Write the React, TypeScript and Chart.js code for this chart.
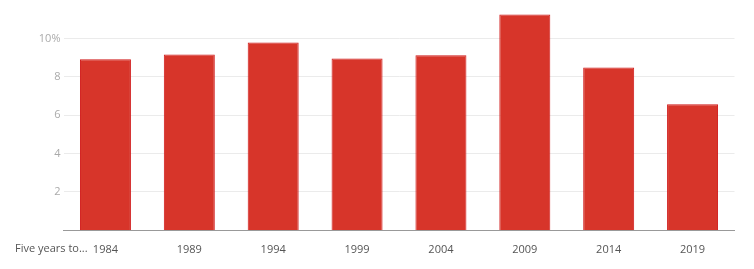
import React, { useEffect, useRef } from "react";
import { Chart, registerables } from "chart.js";

Chart.register(...registerables);

const categories = ["1984", "1989", "1994", "1999", "2004", "2009", "2014", "2019"];
const values = [8.93, 9.18, 9.8, 8.97, 9.13, 11.27, 8.5, 6.57];
const yTicks = [2, 4, 6, 8, 10];
const axisTitle = "Five years to...";

export default function App() {
  const ref = useRef<HTMLCanvasElement | null>(null);
  useEffect(() => {
    document.body.style.margin = "0";
    const ctx = ref.current!.getContext("2d")!;
    const font = "'Open Sans', sans-serif";
    const labelPlugin = {
      id: "leftLabel",
      afterDraw(chart: any) {
        const c = chart.ctx;
        c.save();
        c.font = `11px ${font}`;
        c.fillStyle = "#555555";
        c.textAlign = "left";
        c.textBaseline = "middle";
        c.fillText(axisTitle, 15, 249);
        c.restore();
      },
    };
    const chart = new Chart(ctx, {
      type: "bar",
      data: {
        labels: categories,
        datasets: [
          {
            data: values,
            backgroundColor: "#d7352a",
            borderColor: "#d01818",
            borderWidth: 1,
            categoryPercentage: 1,
            barPercentage: 0.608,
          },
        ],
      },
      options: {
        responsive: false,
        animation: false,
        layout: { padding: { left: 0, right: 19.5, top: 10, bottom: 0 } },
        plugins: { legend: { display: false }, tooltip: { enabled: false } },
        scales: {
          x: {
            grid: { display: false },
            border: { display: true, color: "#999999", width: 1 },
            ticks: { color: "#555555", font: { family: font, size: 11 }, padding: 5, maxRotation: 0 },
            afterFit(scale: any) {
              scale.height = 39;
            },
          },
          y: {
            min: 0,
            max: 11.5,
            border: { display: false },
            grid: { color: "#ebebeb", drawTicks: false },
            afterBuildTicks(scale: any) {
              scale.ticks = yTicks.map((v) => ({ value: v }));
            },
            ticks: {
              color: "#aaaaaa",
              font: { family: font, size: 11 },
              padding: 3,
              callback: (v: any) => (v === 10 ? "10%" : String(v)),
            },
            afterFit(scale: any) {
              scale.width = 63.5;
            },
          },
        },
      },
      plugins: [labelPlugin],
    });
    return () => chart.destroy();
  }, []);
  return (
    <div style={{ width: 754, height: 269 }}>
      <canvas ref={ref} width={754} height={269} />
    </div>
  );
}
